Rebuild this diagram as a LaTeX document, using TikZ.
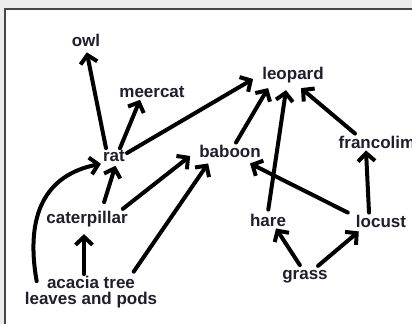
\documentclass[tikz,border=0pt]{standalone}
\usepackage{fontspec}
\setmainfont{Liberation Sans}
\usetikzlibrary{arrows.meta}

\definecolor{ink}{RGB}{30,30,45}
\definecolor{frameline}{RGB}{70,70,70}
\definecolor{framebg}{RGB}{236,236,236}

\tikzset{
  animal/.style={font=\fontsize{17pt}{15.5pt}\selectfont\bfseries, text=ink, inner sep=2pt, align=center},
  eats/.style={line width=4pt, line cap=round, -{Straight Barb[length=8pt,width=17pt]}}
}

\begin{document}
\begin{tikzpicture}[x=1pt,y=-1pt]
\useasboundingbox (0,0) rectangle (412,324);
% window edge
\fill[framebg] (0,0) rectangle (412,324);
\fill[white] (5,9) rectangle (412,324);
\draw[frameline, line width=1.2pt] (5,324) -- (5,9) -- (412,9);

\node[animal] (owl) at (86,40) {owl};
\node[animal] (meercat) at (152,92) {meercat};
\node[animal] (leopard) at (293,75) {leopard};
\node[animal] (rat) at (114,156) {rat};
\node[animal] (baboon) at (230,151) {baboon};
\node[animal] (francolim) at (377,142) {francolim};
\node[animal] (caterpillar) at (87,219) {caterpillar};
\node[animal] (hare) at (268,220) {hare};
\node[animal] (locust) at (381,221) {locust};
\node[animal] (grass) at (305,277) {grass};
\node[animal] (acacia) at (91,292) {acacia tree\\leaves and pods};

% who eats whom
\draw[eats, shorten >=4pt] ([xshift=-8pt]rat.north) -- (owl.south);
\draw[eats] ([xshift=6pt]rat.north) -- ([xshift=-12pt]meercat.south);
\draw[eats] ([yshift=3pt]rat.east) -- ([xshift=-7pt,yshift=-4pt]leopard.west);
\draw[eats] ([xshift=6pt]baboon.north) -- ([xshift=8pt,yshift=-3pt]leopard.south west);
\draw[eats, shorten <=2pt] (hare.north) -- ([xshift=-7pt,yshift=-5pt]leopard.south);
\draw[eats] ([xshift=-22pt]francolim.north) -- ([xshift=8pt,yshift=-3pt]leopard.south);
\draw[eats] ([xshift=-12pt]locust.north) -- ([xshift=-11pt]francolim.south);
\draw[eats] ([xshift=-6pt]locust.north west) -- ([xshift=20pt,yshift=-4pt]baboon.south);
\draw[eats, shorten <=4pt] ([xshift=-3pt]grass.north) -- ([xshift=8pt]hare.south);
\draw[eats, shorten <=4pt] ([xshift=10pt]grass.north) -- ([xshift=5pt,yshift=-2pt]locust.south west);
\draw[eats, shorten >=5pt] ([xshift=-7pt]acacia.north) -- ([xshift=-3pt]caterpillar.south);
\draw[eats, shorten <=7pt, shorten >=2pt] ([xshift=15pt]caterpillar.north) -- ([xshift=2pt]rat.south);
\draw[eats] ([xshift=14pt,yshift=-7pt]acacia.north west) .. controls (25,215) and (45,175) .. (rat.south west);
\draw[eats] ([xshift=-7pt]caterpillar.north east) -- ([xshift=-7pt,yshift=-5pt]baboon.west);
\draw[eats, shorten <=3pt] ([xshift=41pt]acacia.north) -- ([xshift=11pt,yshift=-4pt]baboon.south west);
\end{tikzpicture}
\end{document}
